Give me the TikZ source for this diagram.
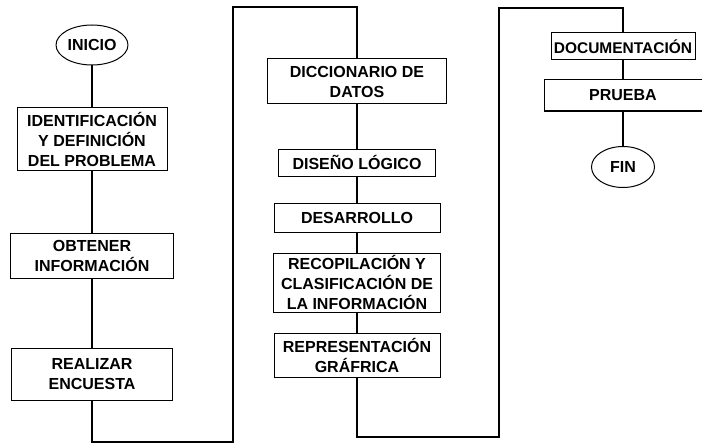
\documentclass[tikz,border=0pt]{standalone}
\usepackage{fontspec}
\setmainfont{Liberation Sans}
\usetikzlibrary{shapes.geometric}

\begin{document}
\begin{tikzpicture}[
    x=1pt, y=-1pt,
    etapa/.style={rectangle, draw, line width=1pt, align=center, inner sep=2pt, font=\fontsize{16}{20}\selectfont\bfseries},
    terminal/.style={ellipse, draw, line width=1pt, inner sep=1pt, font=\fontsize{16}{18}\selectfont\bfseries},
    linea/.style={line width=1.4pt},
]
\useasboundingbox (0,0) rectangle (702,444);

% Column 1
\node[terminal, minimum width=66pt, minimum height=40pt] (inicio) at (92,45) {INICIO};
\node[etapa, minimum width=150pt, minimum height=62pt] (ident) at (92,139) {IDENTIFICACIÓN\\Y DEFINICIÓN\\DEL PROBLEMA};
\node[etapa, minimum width=163pt, minimum height=45pt] (obtener) at (92,255.5) {OBTENER\\INFORMACIÓN};
\node[etapa, minimum width=161pt, minimum height=52pt] (encuesta) at (92,374) {REALIZAR\\ENCUESTA};

% Column 2
\node[etapa, minimum width=179pt, minimum height=45pt] (dicc) at (357,81.5) {DICCIONARIO DE\\DATOS};
\node[etapa, minimum width=157pt, minimum height=27pt] (diseno) at (357,162.5) {DISEÑO LÓGICO};
\node[etapa, minimum width=166pt, minimum height=29pt] (desarrollo) at (357,217.5) {DESARROLLO};
\node[etapa, minimum width=167pt, minimum height=59pt] (recop) at (357,282.5) {RECOPILACIÓN Y\\CLASIFICACIÓN DE\\LA INFORMACIÓN};
\node[etapa, minimum width=166pt, minimum height=44pt] (repres) at (357,355) {REPRESENTACIÓN\\GRÁFRICA};

% Column 3
\node[etapa, minimum width=144pt, minimum height=27pt, font=\fontsize{15.5}{20}\selectfont\bfseries] (docu) at (623,46.5) {DOCUMENTACIÓN};
\node[etapa, minimum width=158pt, minimum height=31pt] (prueba) at (623,95.5) {PRUEBA};
\node[terminal, minimum width=63pt, minimum height=41pt] (fin) at (623,167) {FIN};

% Bends
\coordinate (codo1) at (233,442);
\coordinate (codo2) at (233,7);
\coordinate (codo3) at (499,437);
\coordinate (codo4) at (499,8);

% Lines
\draw[linea] (inicio) -- (ident);
\draw[linea] (ident) -- (obtener);
\draw[linea] (obtener) -- (encuesta);
\draw[linea] (encuesta) |- (codo1) -- (codo2) -| (dicc);
\draw[linea] (dicc) -- (diseno);
\draw[linea] (diseno) -- (desarrollo);
\draw[linea] (desarrollo) -- (recop);
\draw[linea] (recop) -- (repres);
\draw[linea] (repres) |- (codo3) -- (codo4) -| (docu);
\draw[linea] (docu) -- (prueba);
\draw[linea] (prueba) -- (fin);

\end{tikzpicture}
\end{document}
